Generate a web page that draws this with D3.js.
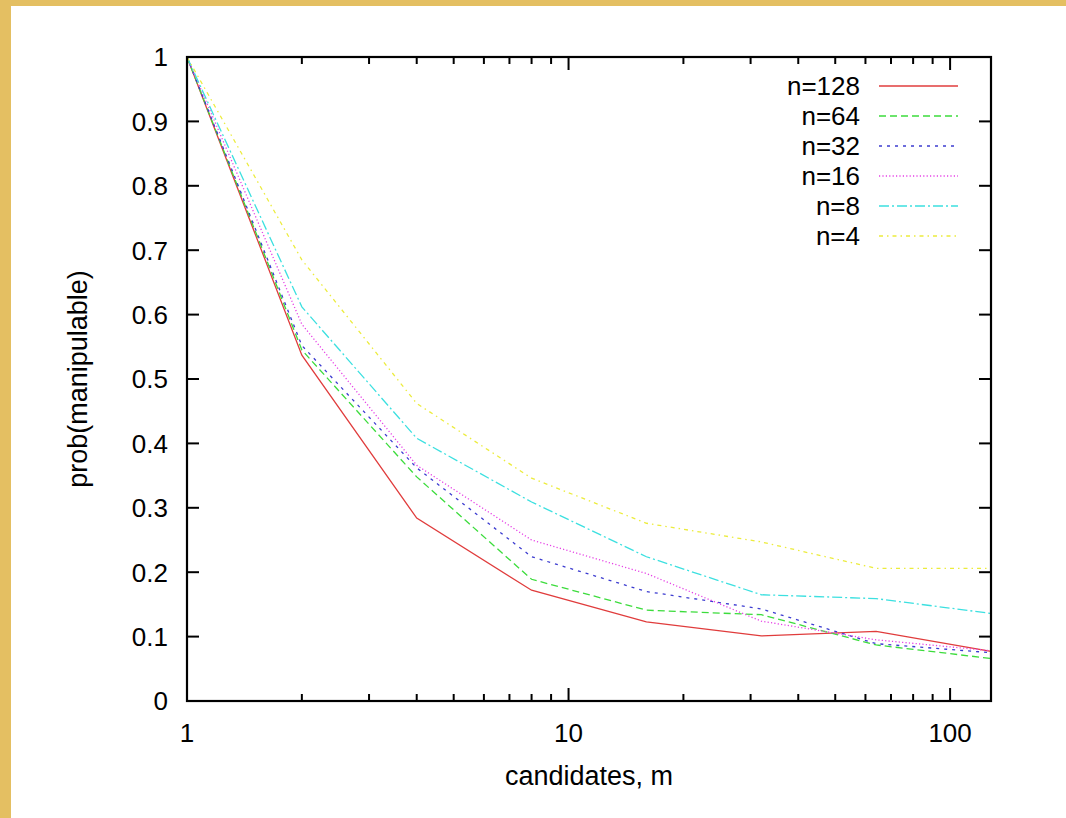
<!DOCTYPE html>
<html>
<head>
<meta charset="utf-8">
<script src="https://cdn.jsdelivr.net/npm/d3@7"></script>
<style>
  html, body { margin: 0; padding: 0; background: #e4bf62; }
  svg { display: block; }
</style>
</head>
<body>
<svg id="chart"></svg>
<script>
// candidates m (x axis, log scale)
const candidates = [1, 2, 4, 8, 16, 32, 64, 128];

// prob(manipulable) per number of voters n
const n128 = [1, 0.537, 0.284, 0.172, 0.123, 0.101, 0.108, 0.077];
const n64  = [1, 0.545, 0.348, 0.189, 0.141, 0.134, 0.087, 0.066];
const n32  = [1, 0.552, 0.362, 0.224, 0.170, 0.143, 0.089, 0.075];
const n16  = [1, 0.585, 0.366, 0.250, 0.198, 0.124, 0.095, 0.078];
const n8   = [1, 0.612, 0.408, 0.309, 0.224, 0.165, 0.159, 0.136];
const n4   = [1, 0.685, 0.462, 0.346, 0.276, 0.247, 0.206, 0.206];

const seriesNames = ["n=128", "n=64", "n=32", "n=16", "n=8", "n=4"];
const yTicks = [0, 0.1, 0.2, 0.3, 0.4, 0.5, 0.6, 0.7, 0.8, 0.9, 1];
const xMajor = [1, 10, 100];

const series = [
  { name: seriesNames[0], values: n128, color: "#e03c3c", dash: null },
  { name: seriesNames[1], values: n64,  color: "#3cdc3c", dash: "7,4" },
  { name: seriesNames[2], values: n32,  color: "#3c3cd0", dash: "3,5" },
  { name: seriesNames[3], values: n16,  color: "#e640e6", dash: "1.2,2.2" },
  { name: seriesNames[4], values: n8,   color: "#3ce0e0", dash: "10,3,2,3" },
  { name: seriesNames[5], values: n4,   color: "#ecec3c", dash: "4,4,1.5,4" }
];

const width = 1066, height = 818;
const svg = d3.select("#chart").attr("width", width).attr("height", height);

// white card over the yellow backdrop
svg.append("rect")
  .attr("x", 11).attr("y", 6)
  .attr("width", width - 11).attr("height", height - 6)
  .attr("fill", "#ffffff");

const margin = { left: 187, top: 57, right: 991, bottom: 701 };

const x = d3.scaleLog().domain([1, 128]).range([margin.left, margin.right]);
const y = d3.scaleLinear().domain([0, 1]).range([margin.bottom, margin.top]);

const font = "'Liberation Sans', Arial, Helvetica, sans-serif";
const fs = 26;

// minor ticks 2..9, 20..90 (within domain)
const xMinor = [];
[1, 10, 100].forEach(b => {
  for (let k = 2; k <= 9; k++) {
    const v = b * k;
    if (v < 128) xMinor.push(v);
  }
});

const ticks = svg.append("g").attr("stroke", "#000").attr("stroke-width", 2);

// x ticks, bottom and top, inward
xMajor.forEach(v => {
  if (v === 1) return;
  ticks.append("line").attr("x1", x(v)).attr("x2", x(v)).attr("y1", margin.bottom).attr("y2", margin.bottom - 13);
  ticks.append("line").attr("x1", x(v)).attr("x2", x(v)).attr("y1", margin.top).attr("y2", margin.top + 13);
});
xMinor.forEach(v => {
  ticks.append("line").attr("x1", x(v)).attr("x2", x(v)).attr("y1", margin.bottom).attr("y2", margin.bottom - 7);
  ticks.append("line").attr("x1", x(v)).attr("x2", x(v)).attr("y1", margin.top).attr("y2", margin.top + 7);
});

// y ticks, left and right, inward
yTicks.forEach(v => {
  if (v === 0 || v === 1) return;
  ticks.append("line").attr("x1", margin.left).attr("x2", margin.left + 12).attr("y1", y(v)).attr("y2", y(v));
  ticks.append("line").attr("x1", margin.right).attr("x2", margin.right - 12).attr("y1", y(v)).attr("y2", y(v));
});

// tick labels
svg.append("g").selectAll("text")
  .data(yTicks)
  .join("text")
  .attr("x", 168)
  .attr("y", d => y(d))
  .attr("dy", "0.36em")
  .attr("text-anchor", "end")
  .attr("font-family", font)
  .attr("font-size", fs)
  .text(d => d3.format("")(d));

svg.append("g").selectAll("text")
  .data(xMajor)
  .join("text")
  .attr("x", d => x(d))
  .attr("y", 742)
  .attr("text-anchor", "middle")
  .attr("font-family", font)
  .attr("font-size", fs)
  .text(d => d);

// axis titles
svg.append("text")
  .attr("x", (margin.left + margin.right) / 2)
  .attr("y", 785)
  .attr("text-anchor", "middle")
  .attr("font-family", font)
  .attr("font-size", fs + 1)
  .text("candidates, m");

svg.append("text")
  .attr("transform", `translate(87, ${(margin.top + margin.bottom) / 2}) rotate(-90)`)
  .attr("text-anchor", "middle")
  .attr("font-family", font)
  .attr("font-size", fs + 1)
  .text("prob(manipulable)");

// data lines
const line = d3.line()
  .x((d, i) => x(candidates[i]))
  .y(d => y(d));

svg.append("g").selectAll("path")
  .data(series)
  .join("path")
  .attr("d", d => line(d.values))
  .attr("fill", "none")
  .attr("stroke", d => d.color)
  .attr("stroke-width", 1.3)
  .attr("stroke-dasharray", d => d.dash);

// legend
const legend = svg.append("g").selectAll("g")
  .data(series)
  .join("g")
  .attr("transform", (d, i) => `translate(0, ${86 + i * 30})`);

legend.append("text")
  .attr("x", 860)
  .attr("dy", "0.36em")
  .attr("text-anchor", "end")
  .attr("font-family", font)
  .attr("font-size", fs)
  .text(d => d.name);

legend.append("line")
  .attr("x1", 879).attr("x2", 958)
  .attr("stroke", d => d.color)
  .attr("stroke-width", 1.3)
  .attr("stroke-dasharray", d => d.dash);

// frame
svg.append("rect")
  .attr("x", margin.left).attr("y", margin.top)
  .attr("width", margin.right - margin.left)
  .attr("height", margin.bottom - margin.top)
  .attr("fill", "none")
  .attr("stroke", "#000")
  .attr("stroke-width", 2.2);
</script>
</body>
</html>
